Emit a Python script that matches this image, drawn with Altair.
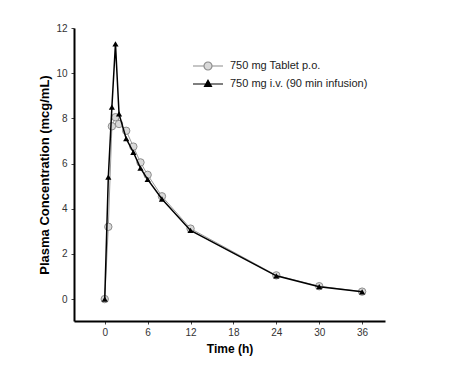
import altair as alt
import pandas as pd

# Time points (h)
tab_time = [0, 0.5, 1, 1.5, 2, 3, 4, 5, 6, 8, 12, 24, 30, 36]
tab_conc = [0, 3.2, 7.65, 8.05, 7.75, 7.45, 6.75, 6.05, 5.5, 4.55, 3.12, 1.05, 0.57, 0.33]

iv_time = [0, 0.5, 1, 1.5, 2, 3, 4, 5, 6, 8, 12, 24, 30, 36]
iv_conc = [0, 5.4, 8.5, 11.3, 8.2, 7.1, 6.5, 5.8, 5.3, 4.43, 3.04, 1.03, 0.55, 0.32]

series_names = ["750 mg Tablet p.o.", "750 mg i.v. (90 min infusion)"]
x_ticks = [0, 6, 12, 18, 24, 30, 36]
y_ticks = [0, 2, 4, 6, 8, 10, 12]

tab = pd.DataFrame({"time": tab_time, "conc": tab_conc, "series": series_names[0]})
iv = pd.DataFrame({"time": iv_time, "conc": iv_conc, "series": series_names[1]})
df = pd.concat([tab, iv], ignore_index=True)

FONT = "Liberation Sans"

x = alt.X("time:Q", scale=alt.Scale(domain=[-4.3, 39.2], nice=False, zero=False),
          axis=alt.Axis(values=x_ticks, title="Time (h)", grid=False, tickSize=3,
                        labelPadding=3, titlePadding=6, labelFontSize=10,
                        titleFontSize=12, titleFontWeight="bold"))
y = alt.Y("conc:Q", scale=alt.Scale(domain=[-0.97, 12], nice=False, zero=False),
          axis=alt.Axis(values=y_ticks, title="Plasma Concentration (mcg/mL)", grid=False,
                        tickSize=3, labelPadding=4, titlePadding=4, labelFontSize=10,
                        titleFontSize=13, titleFontWeight="bold"))

base = alt.Chart(df)

tab_line = base.transform_filter(alt.datum.series == series_names[0]).mark_line(
    color="#9a9a9a", strokeWidth=1).encode(x=x, y=y)
tab_pts = base.transform_filter(alt.datum.series == series_names[0]).mark_point(
    shape="circle", filled=True, fill="#d9d9d9", stroke="#8c8c8c", strokeWidth=1,
    size=55, opacity=1).encode(x=x, y=y)
iv_line = base.transform_filter(alt.datum.series == series_names[1]).mark_line(
    color="black", strokeWidth=1.5).encode(x=x, y=y)
iv_pts = base.transform_filter(alt.datum.series == series_names[1]).mark_point(
    shape="triangle-up", filled=True, color="black", size=38, opacity=1).encode(x=x, y=y)

tab_path = "M-3,0H-0.8M0.8,0H3M0.8,0A0.8,0.8,0,1,1,-0.8,0A0.8,0.8,0,1,1,0.8,0Z"
iv_path = "M-3,0H3M0,-0.75L0.7,0.5L-0.7,0.5Z"

legend = alt.Legend(title=None, orient="none", legendX=128, legendY=32, padding=0,
                    symbolSize=100, symbolOpacity=1, symbolStrokeWidth=1.2,
                    labelOffset=16, labelFontSize=11, labelColor="#222", rowPadding=4,
                    labelFont=FONT)
dummy = base.mark_point(opacity=0, filled=True).encode(
    x=x, y=y,
    shape=alt.Shape("series:N", scale=alt.Scale(domain=series_names, range=[tab_path, iv_path]),
                    legend=legend),
    fill=alt.Fill("series:N", scale=alt.Scale(domain=series_names, range=["#d9d9d9", "black"]),
                  legend=legend),
    stroke=alt.Stroke("series:N", scale=alt.Scale(domain=series_names, range=["#8c8c8c", "black"]),
                      legend=legend),
)

chart = alt.layer(tab_line, tab_pts, iv_line, iv_pts, dummy).properties(
    width=311, height=293,
    autosize=alt.AutoSizeParams(type="none"),
    padding={"left": 66, "top": 20, "right": 10, "bottom": 40},
).configure_view(stroke=None).configure_axis(
    domainColor="black", domainWidth=2, tickColor="#444", labelColor="#333",
    titleColor="black", labelFont=FONT, titleFont=FONT
)

chart.save("out.html", embed_options={"renderer": "svg", "actions": False})
